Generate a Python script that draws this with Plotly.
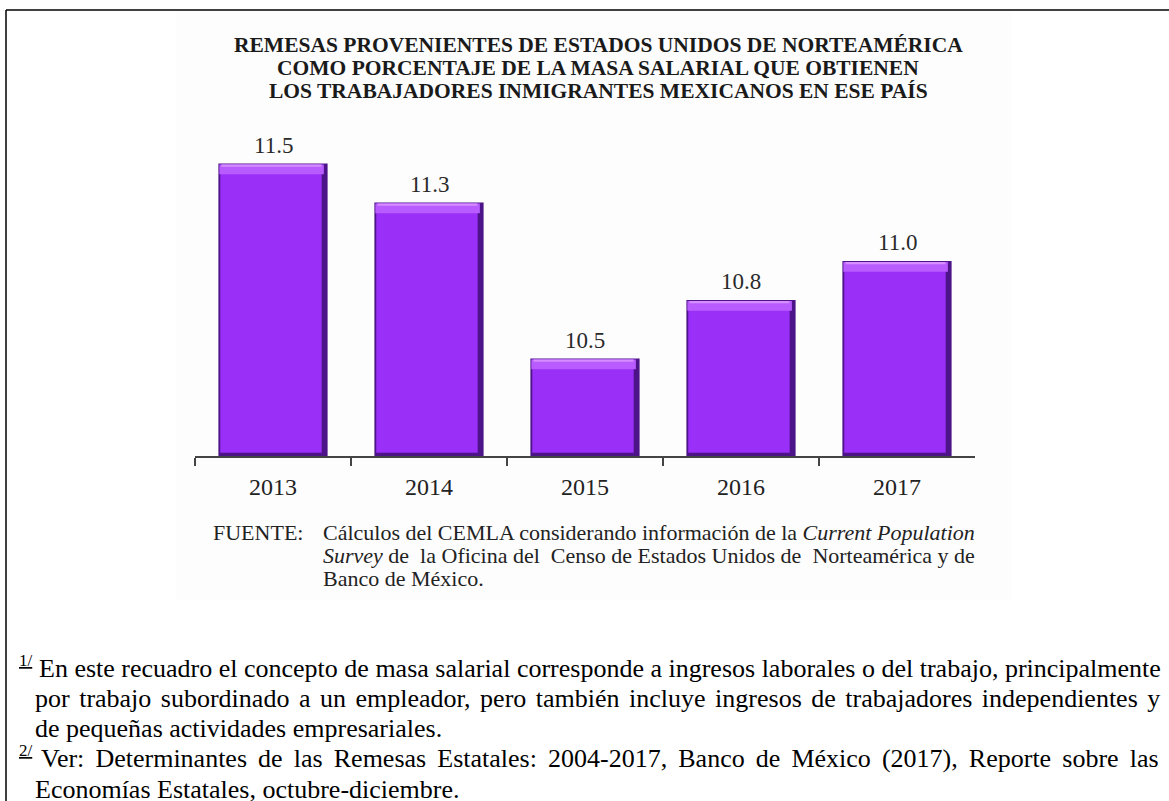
import plotly.graph_objects as go

# Datos
years = ["2013", "2014", "2015", "2016", "2017"]
shares = [11.5, 11.3, 10.5, 10.8, 11.0]
y_floor = 10.0

title_lines = [
    "REMESAS PROVENIENTES DE ESTADOS UNIDOS DE NORTEAMÉRICA",
    "COMO PORCENTAJE DE LA MASA SALARIAL QUE OBTIENEN",
    "LOS TRABAJADORES INMIGRANTES MEXICANOS EN ESE PAÍS",
]
source_label = "FUENTE:"
source_lines = [
    "Cálculos del CEMLA considerando información de la <i>Current Population</i>",
    "<i>Survey</i> de  la Oficina del  Censo de Estados Unidos de  Norteamérica y de",
    "Banco de México.",
]
# (marca, texto, sangría x, espaciado entre palabras)
note_lines = [
    ("1/", "En este recuadro el concepto de masa salarial corresponde a ingresos laborales o del trabajo, principalmente", 37, 0),
    ("", "por trabajo subordinado a un empleador, pero también incluye ingresos de trabajadores independientes y", 33, 3.0),
    ("", "de pequeñas actividades empresariales.", 33, 0),
    ("2/", "Ver: Determinantes de las Remesas Estatales: 2004-2017, Banco de México (2017), Reporte sobre las", 39, 4.6),
    ("", "Economías Estatales, octubre-diciembre.", 33, 0),
]

W, H = 1169, 801
SERIF = "Liberation Serif, Times New Roman, serif"


def px(x):
    return x / W


def py(y):
    return 1 - y / H


fig = go.Figure()

heights = [v - y_floor for v in shares]
bw = 0.70

# Cuerpo oscuro (bordes derecho e inferior)
fig.add_trace(go.Bar(x=years, y=heights, base=y_floor, width=bw, offset=-bw / 2,
                     marker=dict(color="#4d1388", line=dict(width=0)), hoverinfo="skip"))
# Cara frontal
fig.add_trace(go.Bar(x=years, y=[h - 0.022 for h in heights], base=y_floor + 0.017,
                     width=bw - 0.05, offset=-bw / 2 + 0.012,
                     marker=dict(color="#9a2ff8", line=dict(width=0)), hoverinfo="skip"))
# Bisel superior
fig.add_trace(go.Bar(x=years, y=[0.05] * len(years), base=[v - 0.055 for v in shares],
                     width=bw - 0.03, offset=-bw / 2 + 0.006,
                     marker=dict(color="#b85cff", line=dict(width=0)), hoverinfo="skip"))
fig.add_trace(go.Bar(x=years, y=[0.012] * len(years), base=[v - 0.017 for v in shares],
                     width=bw - 0.06, offset=-bw / 2 + 0.02,
                     marker=dict(color="#d68dff", line=dict(width=0)), hoverinfo="skip"))

# Etiquetas de valor
for i, v in enumerate(shares):
    fig.add_annotation(x=i, y=v, xref="x", yref="y", text=f"{v:.1f}", showarrow=False,
                       yanchor="bottom", yshift=4, font=dict(family=SERIF, size=23, color="#2a2a2a"))

# Título
for i, line in enumerate(title_lines):
    fig.add_annotation(x=px(598), y=py(45 + 23 * i), xref="paper", yref="paper", text=f"<b>{line}</b>",
                       showarrow=False, xanchor="center", yanchor="middle",
                       font=dict(family=SERIF, size=21.5, color="#1a1a1a"))

# Fuente
fig.add_annotation(x=px(211), y=py(532), xref="paper", yref="paper", text=source_label, showarrow=False,
                   xanchor="left", yanchor="middle", font=dict(family=SERIF, size=22, color="#222"))
for i, line in enumerate(source_lines):
    fig.add_annotation(x=px(321), y=py(532 + 23 * i), xref="paper", yref="paper", text=line,
                       showarrow=False, xanchor="left", yanchor="middle",
                       font=dict(family=SERIF, size=22, color="#222"))

# Notas al pie
for i, (mark, line, x0, ws) in enumerate(note_lines):
    yc = 668 + 30.3 * i
    if mark:
        fig.add_annotation(x=px(17), y=py(yc - 8), xref="paper", yref="paper", text=f"<u>{mark}</u>",
                           showarrow=False, xanchor="left", yanchor="middle",
                           font=dict(family=SERIF, size=17, color="#000"))
    txt = f'<span style="word-spacing:{ws}px">{line}</span>' if ws else line
    fig.add_annotation(x=px(x0), y=py(yc), xref="paper", yref="paper",
                       text=txt, showarrow=False, xanchor="left", yanchor="middle",
                       font=dict(family=SERIF, size=26, color="#000"))

# Marco de la página y fondo del gráfico
fig.add_shape(type="rect", xref="paper", yref="paper", x0=px(176), x1=px(1012), y0=py(600), y1=py(11),
              fillcolor="#fdfdfd", line=dict(width=0), layer="below")
fig.add_shape(type="line", xref="paper", yref="paper", x0=px(6), x1=1, y0=py(10), y1=py(10),
              line=dict(color="#000", width=1.5))
fig.add_shape(type="line", xref="paper", yref="paper", x0=px(6), x1=px(6), y0=py(10), y1=0,
              line=dict(color="#000", width=1.5))

fig.update_layout(
    width=W, height=H, autosize=False,
    margin=dict(l=0, r=0, t=0, b=0),
    paper_bgcolor="white", plot_bgcolor="rgba(0,0,0,0)",
    barmode="overlay", showlegend=False,
    xaxis=dict(domain=[px(195), px(975)], type="category", range=[-0.5, 4.5],
               showline=True, linecolor="#444", linewidth=1.5,
               ticks="outside", tickson="boundaries", ticklen=8, tickcolor="#444", tickwidth=1.5,
               ticklabelstandoff=8,
               showgrid=False, zeroline=False,
               tickfont=dict(family=SERIF, size=24, color="#222")),
    yaxis=dict(domain=[py(456), py(66)], range=[y_floor, 12.0], visible=False, fixedrange=True),
)

fig.write_html("out.html")
